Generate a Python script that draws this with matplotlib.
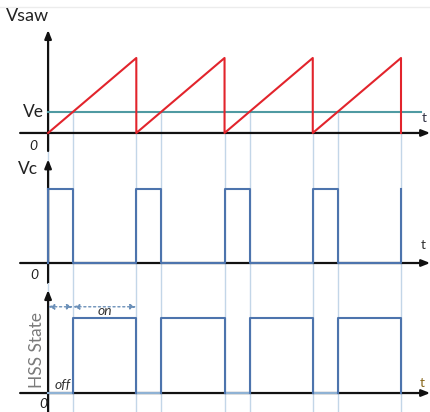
import matplotlib
matplotlib.use("Agg")
import matplotlib.pyplot as plt
import numpy as np

plt.rcParams['font.family'] = ['Lato', 'DejaVu Sans']

# ---- data (time in switching periods) ----
reset_times = [0.0, 1.0, 2.0, 3.0, 4.0]      # sawtooth reset instants
cross_offset = 0.284                          # Ve crossing after each reset
saw_peak = 1.0
ve_level = 0.28
ve_end = 4.23
x_left, x_right = -0.545, 4.34
axis_start, axis_end = -0.317, 4.33

cross_times = [r + cross_offset for r in reset_times[:-1]]

RED = '#e2242c'
TEAL = '#4f9aa2'
BLUE = '#4d74ad'
LIGHTBLUE = '#c3d6e8'
HSSLOW = '#8fb2d4'

W, H = 431, 412
fig = plt.figure(figsize=(W / 100, H / 100), dpi=100)

def px_axes(y0, y1):
    return fig.add_axes([0, 1 - y1 / H, 1, (y1 - y0) / H])

ax1 = px_axes(0, 153)
ax2 = px_axes(153, 283)
ax3 = px_axes(283, 412)
ax1.set_ylim(-0.267, 1.773)
ax2.set_ylim(-0.27, 1.486)
ax3.set_ylim(-0.253, 1.467)
for ax in (ax1, ax2, ax3):
    ax.set_xlim(x_left, x_right)
    ax.axis('off')

def draw_axes(ax, ytop, ybot):
    ax.annotate('', xy=(axis_end, 0), xytext=(axis_start, 0),
                arrowprops=dict(arrowstyle='-|>,head_length=0.5,head_width=0.2',
                                color='#111111', lw=1.6, shrinkA=0, shrinkB=0),
                zorder=2, annotation_clip=False)
    ax.annotate('', xy=(0, ytop), xytext=(0, ybot),
                arrowprops=dict(arrowstyle='-|>,head_length=0.5,head_width=0.2',
                                color='#111111', lw=1.6, shrinkA=0, shrinkB=0),
                zorder=2, annotation_clip=False)

# top separator faint line
ax1.axhline(ax1.get_ylim()[1] - 0.09, color='#ececec', lw=1)

# ---- top: sawtooth ----
draw_axes(ax1, 1.373, -0.24)
ax1.plot([0, ve_end], [ve_level, ve_level], color=TEAL, lw=1.5, zorder=3)
sx, sy = [], []
for r in reset_times[:-1]:
    sx += [r, r + 1, r + 1]
    sy += [0, saw_peak, 0]
ax1.plot(sx, sy, color=RED, lw=1.5, zorder=4)
for c in cross_times:
    ax1.plot([c, c], [ve_level, ax1.get_ylim()[0]], color=LIGHTBLUE, lw=1, zorder=1)
for r in reset_times:
    ax1.plot([r, r], [0, ax1.get_ylim()[0]], color=LIGHTBLUE, lw=1, zorder=1)

# ---- middle: Vc ----
draw_axes(ax2, 1.40, -0.27)
for t in cross_times + reset_times:
    ax2.axvline(t, color=LIGHTBLUE, lw=1, zorder=1)
vx, vy = [0], [1]
for r, c in zip(reset_times[:-1], cross_times):
    vx += [c, c, r + 1, r + 1]
    vy += [1, 0, 0, 1]
ax2.plot(vx, vy, color=BLUE, lw=1.5, zorder=4)
ax2.plot([0, 0], [0, 1], color=BLUE, lw=1.5, zorder=3)

# ---- bottom: HSS state ----
draw_axes(ax3, 1.373, -0.253)
for t in cross_times + reset_times:
    ax3.axvline(t, color=LIGHTBLUE, lw=1, zorder=1)
ax3.plot([0, cross_times[0]], [0, 0], color=HSSLOW, lw=1.5, zorder=3)
for r, c in zip(reset_times[:-1], cross_times):
    ax3.plot([c, c, r + 1, r + 1], [0, 1, 1, 0], color=BLUE, lw=1.5, zorder=4)
for r, c in zip(reset_times[1:-1], cross_times[1:]):
    ax3.plot([r, c], [0, 0], color=HSSLOW, lw=1.5, zorder=3)

# dotted arrows
for a, b in [(0, cross_times[0]), (cross_times[0], reset_times[1])]:
    ax3.annotate('', xy=(a, 1.15), xytext=(b, 1.15),
                 arrowprops=dict(arrowstyle='<|-|>,head_length=0.35,head_width=0.15',
                                 color='#6a8fb8', lw=1, linestyle=(0, (1.5, 2)),
                                 shrinkA=0, shrinkB=0), zorder=3)
ax3.text(0.64, 1.10, 'on', ha='center', va='center', style='italic', fontsize=10, color='#333333')
ax3.text(0.17, 0.11, 'off', ha='center', va='center', style='italic', fontsize=10, color='#333333')
ax3.text(-0.125, 0.57, 'HSS State', rotation=90, ha='center', va='center', fontsize=12.5, color='#7a7a7a')

# labels
ax1.text(-0.48, 1.56, 'Vsaw', ha='left', va='center', fontsize=13, color='#222222')
ax1.text(-0.29, 0.28, 'Ve', ha='left', va='center', fontsize=12.5, color='#222222')
ax1.text(-0.17, -0.18, '0', ha='center', va='center', style='italic', fontsize=10, color='#222222')
ax1.text(4.26, 0.20, 't', ha='center', va='center', fontsize=10, color='#333344')
ax2.text(-0.345, 1.27, 'Vc', ha='left', va='center', fontsize=12.5, color='#222222')
ax2.text(-0.16, -0.16, '0', ha='center', va='center', style='italic', fontsize=10, color='#222222')
ax2.text(4.25, 0.25, 't', ha='center', va='center', fontsize=10, color='#333333')
ax3.text(-0.05, -0.15, '0', ha='center', va='center', style='italic', fontsize=10, color='#222222')
ax3.text(4.24, 0.14, 't', ha='center', va='center', fontsize=10, color='#8a6a20')

fig.savefig('out.png', dpi=100)
